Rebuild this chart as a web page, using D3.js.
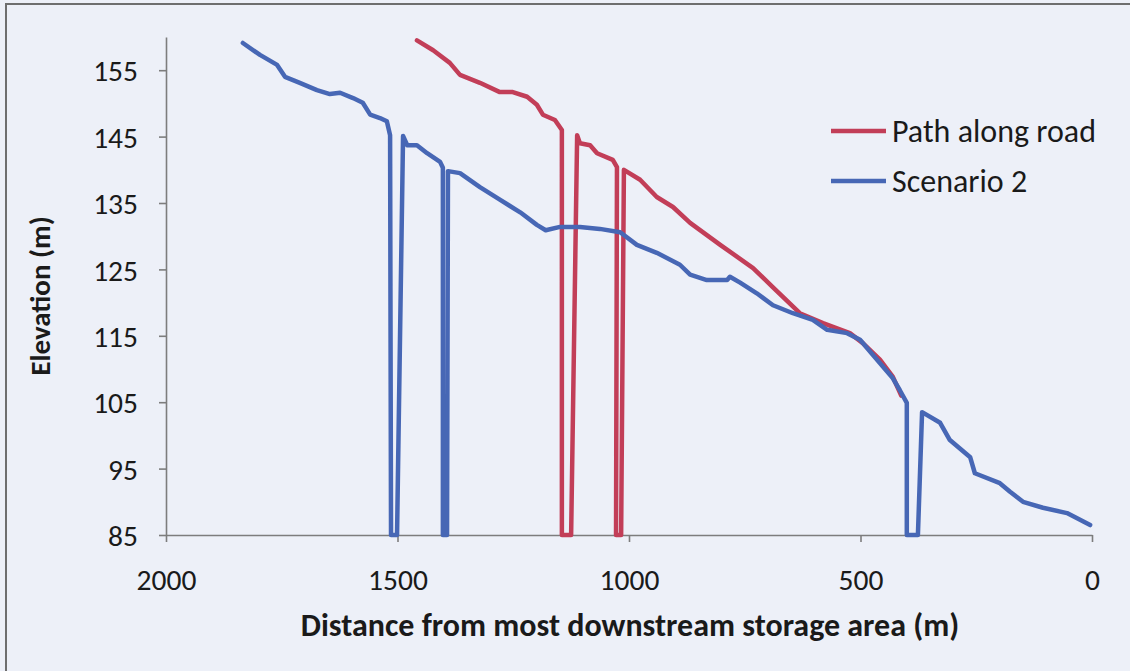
<!DOCTYPE html>
<html><head><meta charset="utf-8">
<script src="https://cdn.jsdelivr.net/npm/d3@7"></script>
<style>html,body{margin:0;padding:0;background:#edf0f8;} svg{display:block}</style>
</head><body><svg id="c" width="1130" height="671"></svg>
<script>
// ---- data (distance from most downstream storage area in m, elevation in m) ----
const seriesNames = ["Path along road", "Scenario 2"];
const roadDist = [1458,1423,1387,1365,1322,1279,1251,1220,1199,1186,1160,1145,1145,1125,1112,1106,1084,1069,1035,1026,1028,1017,1011,976,940,905,868,803,732,689,631,581,523,495,458,430,412];
const roadElev = [159.5,158.0,156.1,154.3,153.1,151.7,151.7,151.0,149.8,148.3,147.5,146.0,85,85,145.2,144.0,143.7,142.5,141.5,140.4,85,85,140.0,138.5,135.9,134.4,132.0,128.7,125.2,122.3,118.4,116.9,115.4,113.9,111.4,108.8,106.0];
const scen2Dist = [1834,1797,1760,1743,1711,1674,1646,1624,1596,1575,1559,1538,1523,1516,1514,1501,1488,1479,1458,1436,1408,1402,1402,1393,1391,1365,1322,1279,1235,1199,1180,1149,1106,1063,1019,983,940,890,868,832,788,782,760,724,689,646,603,572,529,501,473,430,415,400,400,376,367,328,307,263,253,199,177,149,106,54,4];
const scen2Elev = [159.1,157.3,155.8,154.0,153.1,152.0,151.4,151.6,150.8,150.1,148.3,147.8,147.3,145.2,85,85,145.1,143.7,143.7,142.5,141.2,140.3,85,85,139.8,139.5,137.4,135.5,133.6,131.7,130.9,131.4,131.4,131.1,130.6,128.7,127.5,125.7,124.2,123.4,123.4,123.9,123.0,121.4,119.6,118.4,117.4,115.9,115.4,114.4,112.1,108.6,106.8,104.9,85,85,103.5,101.9,99.3,96.7,94.3,92.8,91.5,90.0,89.1,88.3,86.5];
const xTicks = [2000, 1500, 1000, 500, 0];
const yTicks = [85, 95, 105, 115, 125, 135, 145, 155];
const xTitle = "Distance from most downstream storage area (m)";
const yTitle = "Elevation (m)";

const FONT = "Carlito, Calibri, Lato, 'Open Sans', sans-serif";
const RED = "#c23e58", BLUE = "#4767b5", AXIS = "#7d7d7d";

const svg = d3.select("#c");
svg.append("rect").attr("x", 6).attr("y", 4).attr("width", 1140).attr("height", 690)
  .attr("fill", "#edf0f8").attr("stroke", "#6e6e6e").attr("stroke-width", 2);

const x = d3.scaleLinear().domain([2000, 0]).range([166, 1092]);
const y = d3.scaleLinear().domain([85, 160]).range([535, 37]);

// axes
const gx = svg.append("g").attr("transform", "translate(0,535)")
  .call(d3.axisBottom(x).tickValues(xTicks).tickFormat(d3.format("d")).tickSize(7).tickPadding(27).tickSizeOuter(0));
const gy = svg.append("g").attr("transform", "translate(166,0)")
  .call(d3.axisLeft(y).tickValues(yTicks).tickFormat(d3.format("d")).tickSize(7).tickPadding(21).tickSizeOuter(0));
[gx, gy].forEach(g => {
  g.select(".domain").attr("stroke", AXIS).attr("stroke-width", 1.6);
  g.selectAll(".tick line").attr("stroke", AXIS).attr("stroke-width", 1.6);
  g.selectAll(".tick text").attr("fill", "#1a1a1a").style("font-family", FONT).style("font-size", "29.5px");
});
gy.selectAll(".tick text").attr("dy", "0.36em");

// series
const line = d3.line().x(d => x(d[0])).y(d => y(d[1]));
const road = roadDist.map((d, i) => [d, roadElev[i]]);
const scen2 = scen2Dist.map((d, i) => [d, scen2Elev[i]]);
const plot = svg.append("g");
plot.append("path").datum(road).attr("d", line).attr("fill", "none")
  .attr("stroke", RED).attr("stroke-width", 4.5).attr("stroke-linejoin", "round").attr("stroke-linecap", "round");
plot.append("path").datum(scen2).attr("d", line).attr("fill", "none")
  .attr("stroke", BLUE).attr("stroke-width", 4.5).attr("stroke-linejoin", "round").attr("stroke-linecap", "round");

// legend
const leg = svg.append("g");
[[seriesNames[0], RED, 131], [seriesNames[1], BLUE, 181]].forEach(([name, col, ly]) => {
  leg.append("line").attr("x1", 831).attr("x2", 886).attr("y1", ly).attr("y2", ly)
    .attr("stroke", col).attr("stroke-width", 4.5);
  leg.append("text").attr("x", 892).attr("y", ly).attr("dy", "0.35em")
    .style("font-family", FONT).style("font-size", "32px").attr("fill", "#1a1a1a").text(name);
});

// titles
svg.append("text").attr("x", 630).attr("y", 625).attr("dy", "0.35em").attr("text-anchor", "middle")
  .style("font-family", FONT).style("font-size", "32px").style("font-weight", "bold").attr("fill", "#1a1a1a").text(xTitle);
svg.append("text").attr("transform", "translate(40,296) rotate(-90)").attr("dy", "0.35em").attr("text-anchor", "middle")
  .style("font-family", FONT).style("font-size", "29px").style("font-weight", "bold").attr("fill", "#1a1a1a").text(yTitle);
</script>
</body></html>
